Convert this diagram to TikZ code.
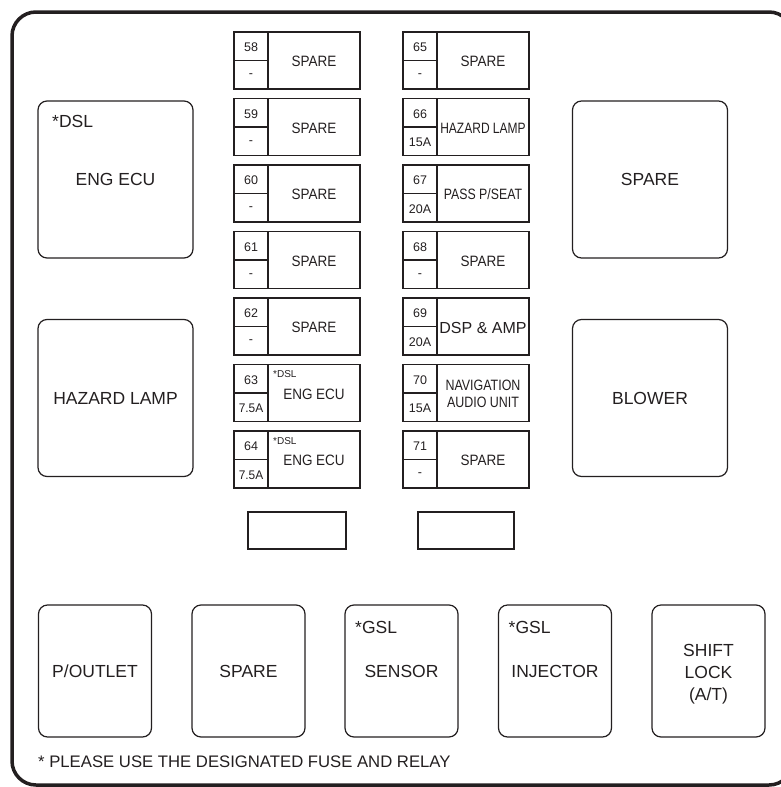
\documentclass[tikz,border=0pt]{standalone}
\usepackage{fontspec}
\setmainfont{Liberation Sans}
\usetikzlibrary{calc}
\definecolor{ink}{HTML}{231F20}
\newcommand\fz[1]{\fontsize{#1}{#1}\selectfont}
\newcommand\sq[2]{\scalebox{#1}[1]{#2}}
\newcommand\fusebox[6]{%
  \node[fuse] (#1) at (#2,#3) {};
  \draw[fline] ([xshift=34pt]#1.north west) -- ([xshift=34pt]#1.south west);
  \draw[fline] ([yshift=-28.5pt]#1.north west) -- ([xshift=34pt,yshift=-28.5pt]#1.north west);
  \node[fnum] (#1n) at ([xshift=17pt,yshift=-15.5pt]#1.north west) {#4};
  \node[fnum] (#1a) at ([xshift=17pt,yshift=-44pt]#1.north west) {#5};
  \node[ftext] (#1t) at ([xshift=80pt,yshift=-29.5pt]#1.north west) {#6};
}
\begin{document}
\begin{tikzpicture}[x=1pt,y=-1pt,
  relay/.style={draw=ink, line width=1.2pt, rounded corners=9pt, inner sep=0pt, outer sep=0pt, text=ink, font=\fz{17.5}, align=center},
  bigrelay/.style={relay, minimum width=155pt, minimum height=157pt},
  smallrelay/.style={relay, minimum width=113pt, minimum height=132pt},
  fuse/.style={draw=ink, line width=1.4pt, minimum width=126pt, minimum height=57pt, inner sep=0pt, outer sep=0pt, anchor=north west},
  fline/.style={draw=ink, line width=1.4pt},
  fnum/.style={text=ink, font=\fz{12.5}, inner sep=0pt},
  ftext/.style={text=ink, font=\fontsize{15}{17}\selectfont, inner sep=0pt, align=center},
  tag/.style={text=ink, font=\fz{17.5}, inner sep=0pt, anchor=west},
  smalltag/.style={text=ink, font=\fz{10}, inner sep=0pt, anchor=west},
  blank/.style={draw=ink, line width=1.2pt, minimum height=37pt, inner sep=0pt, outer sep=0pt},
]
\useasboundingbox (0,0) rectangle (781,787);
\begin{scope}
  \clip (0,0) rectangle (781,787);
  \draw[ink, line width=3.5pt, rounded corners=24pt] (12,12) rectangle (793,785);
\end{scope}

% large relays
\node[bigrelay] (engecu) at (115.5,179.5) {ENG ECU};
\node[tag] (engecutag) at ([xshift=14pt,yshift=-20.5pt]engecu.north west) {*DSL};
\node[bigrelay] (hazard) at (115.5,398) {HAZARD LAMP};
\node[bigrelay] (spareR) at (650,179.5) {SPARE};
\node[bigrelay] (blower) at (650,398) {BLOWER};

% bottom relays
\node[smallrelay] (poutlet) at (95,671) {\raisebox{-1pt}{P/OUTLET}};
\node[smallrelay] (spareB) at (248.5,671) {\raisebox{-1pt}{SPARE}};
\node[smallrelay] (sensor) at (401.5,671) {\raisebox{-1pt}{SENSOR}};
\node[tag] (sensortag) at ([xshift=10pt,yshift=-22pt]sensor.north west) {*GSL};
\node[smallrelay] (injector) at (555,671) {\raisebox{-1pt}{INJECTOR}};
\node[tag] (injectortag) at ([xshift=10pt,yshift=-22pt]injector.north west) {*GSL};
\node[smallrelay] (shift) at (708.5,671) {};
\node[text=ink, font=\fontsize{17.5}{22}\selectfont, align=center, inner sep=0pt] (shifttxt) at ([yshift=-3pt]shift.center) {SHIFT\\LOCK\\(A/T)};

% fuses, left column
\fusebox{f58}{234}{32}{58}{-}{\sq{.9}{SPARE}}
\fusebox{f59}{234}{98.5}{59}{-}{\sq{.9}{SPARE}}
\fusebox{f60}{234}{165}{60}{-}{\sq{.9}{SPARE}}
\fusebox{f61}{234}{231.5}{61}{-}{\sq{.9}{SPARE}}
\fusebox{f62}{234}{298}{62}{-}{\sq{.9}{SPARE}}
\fusebox{f63}{234}{364.5}{63}{\sq{.95}{7.5A}}{\sq{.9}{ENG ECU}}
\node[smalltag] (f63tag) at ([xshift=39pt,yshift=-10pt]f63.north west) {*DSL};
\fusebox{f64}{234}{431}{64}{\sq{.95}{7.5A}}{\sq{.9}{ENG ECU}}
\node[smalltag] (f64tag) at ([xshift=39pt,yshift=-10pt]f64.north west) {*DSL};

% fuses, right column
\fusebox{f65}{403}{32}{65}{-}{\sq{.9}{SPARE}}
\fusebox{f66}{403}{98.5}{66}{15A}{\sq{.8}{HAZARD LAMP}}
\fusebox{f67}{403}{165}{67}{20A}{\sq{.82}{PASS P/SEAT}}
\fusebox{f68}{403}{231.5}{68}{-}{\sq{.9}{SPARE}}
\fusebox{f69}{403}{298}{69}{20A}{\fz{16}DSP \& AMP}
\fusebox{f70}{403}{364.5}{70}{15A}{\sq{.83}{NAVIGATION}\\\sq{.83}{AUDIO UNIT}}
\fusebox{f71}{403}{431}{71}{-}{\sq{.9}{SPARE}}

% blank fuse slots
\node[blank, minimum width=98pt] (blankL) at (297,530.5) {};
\node[blank, minimum width=96pt] (blankR) at (466,530.5) {};

% footnote
\node[text=ink, font=\fz{16.7}, inner sep=0pt, anchor=west] (note) at (38,762) {* PLEASE USE THE DESIGNATED FUSE AND RELAY};
\end{tikzpicture}
\end{document}
